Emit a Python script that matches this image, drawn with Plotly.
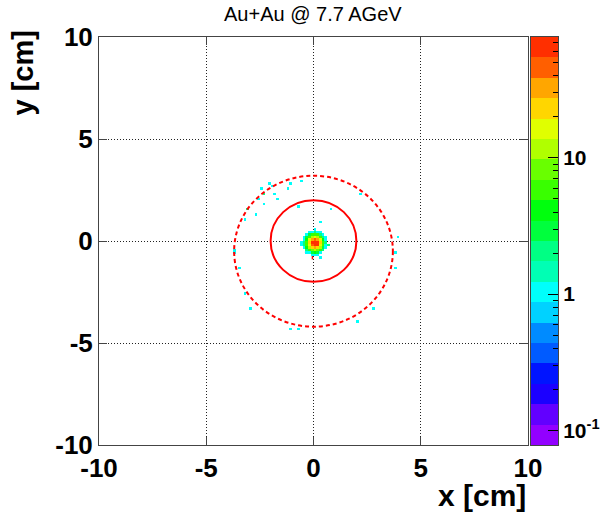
import colorsys
import numpy as np
import plotly.graph_objects as go

# ---- histogram binning (cm) ----
x_lo, x_hi, n_bins = -10.0, 10.0, 160
bin_w = (x_hi - x_lo) / n_bins

# ---- dense vertex core: entries per bin ----
core_x_lo = [-0.625, -0.5, -0.375, -0.25, -0.125, 0.0, 0.125, 0.25, 0.375,
             0.5, 0.625]
core_y_lo = [0.5, 0.375, 0.25, 0.125, 0.0, -0.125, -0.25, -0.375, -0.5,
             -0.625, -0.75]
core_counts = [
    [0, 0, 0, 0, 0, 1, 0, 0, 0, 0, 0],
    [0, 0, 0, 1, 1, 2, 1, 1, 0, 0, 0],
    [0, 0, 1, 3, 5, 6, 5, 2, 1, 0, 0],
    [0, 1, 3, 6, 12, 15, 12, 6, 2, 1, 0],
    [0, 1, 4, 14, 30, 40, 33, 14, 4, 1, 0],
    [1, 2, 6, 20, 55, 77, 62, 22, 6, 2, 0],
    [0, 2, 5, 18, 48, 70, 56, 18, 5, 1, 1],
    [0, 1, 4, 10, 25, 34, 26, 10, 3, 1, 0],
    [0, 0, 2, 5, 9, 12, 9, 5, 2, 0, 0],
    [0, 0, 1, 1, 3, 4, 3, 1, 0, 0, 0],
    [0, 0, 0, 0, 1, 1, 1, 0, 0, 0, 0],
]

# ---- isolated vertices: position (cm) and entries ----
halo_x = [-2.45, -2.05, -1.94, -1.05, -0.54, -1.13, -1.86, -2.35, -2.56, -2.35,
          -1.75, -3.02, -2.63, -3.13, -0.74, 0.85, 0.25, 2.14, -0.54, 0.73,
          0.25, 3.95, 3.85, 3.85, -3.72, -3.64, -3.44, -3.25, -2.94, -1.05,
          -0.65, 2.05, 2.75]
halo_y = [2.56, 2.75, 2.64, 2.87, 2.96, 2.56, 2.34, 2.31, 2.05, 1.85,
          2.05, 1.61, 1.26, 1.03, 1.65, 1.56, 0.95, 2.37, -0.25, -0.25,
          -0.77, 0.13, -0.56, -1.26, -0.44, -0.52, -1.26, -2.57, -3.36, -4.37,
          -4.37, -3.88, -3.28]
halo_n = [1, 1, 1, 1, 1, 1, 1, 2, 1, 1,
          1, 2, 1, 1, 1, 1, 1, 1, 1, 1,
          1, 1, 1, 1, 1, 1, 1, 1, 1, 1,
          1, 1, 1]

# ---- overlay geometry (cm) ----
inner_center, inner_radius = (0.0, 0.0), 2.0
outer_center, outer_radius = (0.0, -0.5), 3.7
beam_center, beam_arm = (-0.05, -0.55), 0.35

# ---- colour axis ----
z_min, z_max = 0.078, 77.0
n_contours = 20
major_vals = [0.1, 1, 10]
major_text = ["10<sup>-1</sup>", "1", "10"]
minor_vals = [0.2, 0.3, 0.4, 0.5, 0.6, 0.7, 0.8, 0.9,
              2, 3, 4, 5, 6, 7, 8, 9, 20, 30, 40, 50, 60, 70]

axis_ticks = [-10, -5, 0, 5, 10]
axis_text = ["-10", "-5", "0", "5", "10"]

# ---- fill the histogram ----
H = np.zeros((n_bins, n_bins))


def bin_index(v):
    return int(np.floor((v - x_lo) / bin_w + 1e-6))


for r, yl in enumerate(core_y_lo):
    for c, xl in enumerate(core_x_lo):
        H[bin_index(yl), bin_index(xl)] += core_counts[r][c]
for xv, yv, nv in zip(halo_x, halo_y, halo_n):
    H[bin_index(yv), bin_index(xv)] += nv

centers = x_lo + bin_w * (np.arange(n_bins) + 0.5)
with np.errstate(divide="ignore"):
    Z = np.where(H > 0, np.log10(H), np.nan)

# ROOT "pretty" palette (HLS hue sweep violet -> red), 20 contour colours
palette = []
for k in range(n_contours):
    j = int(0.01 + k * 50.0 / n_contours)
    hue = 280.0 - (j + 1) * 280.0 / 50.0
    r, g, b = colorsys.hls_to_rgb(hue / 360.0, 0.5, 1.0)
    palette.append(f"rgb({int(r*255)},{int(g*255)},{int(b*255)})")
colorscale = []
for k, col in enumerate(palette):
    colorscale.append([k / n_contours, col])
    colorscale.append([(k + 1) / n_contours, col])

lz_min, lz_max = np.log10(z_min), np.log10(z_max)
dz = (lz_max - lz_min) / n_contours
band_edges = lz_min + dz * np.arange(n_contours + 1)
band_mid = (band_edges[:-1] + band_edges[1:]) / 2

FONT = "Liberation Sans, Arial, Helvetica, sans-serif"
FRAME = "#444444"

# pixel layout: frame 99..528, palette 531..558
left, right_edge = 99, 558
paper_w = right_edge - left
main_dom = [0, (528 - left) / paper_w]
pal_dom = [(531 - left) / paper_w, 1]

fig = go.Figure()
fig.add_trace(go.Heatmap(
    x=centers, y=centers, z=Z, coloraxis="coloraxis",
    hoverongaps=False, zsmooth=False,
))
# palette strip drawn as its own heatmap on a log10 axis
fig.add_trace(go.Heatmap(
    x=[0, 1], y=band_edges, z=[[v] for v in band_mid],
    coloraxis="coloraxis", xaxis="x2", yaxis="y2", hoverinfo="skip",
))

fig.update_layout(coloraxis=dict(
    colorscale=colorscale, cmin=lz_min, cmax=lz_max, showscale=False))

axis_common = dict(
    range=[x_lo, x_hi], tickmode="array", tickvals=axis_ticks,
    ticktext=axis_text, automargin=False,
    ticks="inside", ticklen=8, tickcolor=FRAME, tickwidth=1,
    showline=True, linecolor=FRAME, linewidth=1, mirror="ticks",
    showgrid=True, gridcolor="#222222", gridwidth=1, griddash="1px,2px",
    zeroline=False,
    tickfont=dict(family=FONT, size=26, color="black", weight="bold"),
)
fig.update_layout(
    xaxis=dict(**axis_common, domain=main_dom, anchor="y"),
    yaxis=dict(**axis_common, anchor="x"),
    xaxis2=dict(domain=pal_dom, range=[0, 1], anchor="y2",
                automargin=False,
                showticklabels=False, ticks="", showgrid=False,
                zeroline=False, showline=True, linecolor=FRAME,
                mirror=True),
    yaxis2=dict(range=[lz_min, lz_max], anchor="x2", side="right",
                automargin=False,
                tickmode="array", tickvals=np.log10(major_vals).tolist(),
                ticktext=major_text, ticks="inside", ticklen=10,
                tickcolor="black", tickwidth=1,
                minor=dict(tickmode="array",
                           tickvals=np.log10(minor_vals).tolist(),
                           ticks="inside", ticklen=5, tickcolor="black",
                           showgrid=False),
                showgrid=False, zeroline=False, showline=True,
                linecolor=FRAME, mirror=True,
                tickfont=dict(family=FONT, size=21, color="black",
                              weight="bold")),
)

shapes = [
    dict(type="circle", xref="x", yref="y",
         x0=inner_center[0] - inner_radius, x1=inner_center[0] + inner_radius,
         y0=inner_center[1] - inner_radius, y1=inner_center[1] + inner_radius,
         line=dict(color="red", width=2), layer="above"),
    dict(type="circle", xref="x", yref="y",
         x0=outer_center[0] - outer_radius, x1=outer_center[0] + outer_radius,
         y0=outer_center[1] - outer_radius, y1=outer_center[1] + outer_radius,
         line=dict(color="red", width=2, dash="4px,3px"), layer="above"),
    dict(type="line", xref="x", yref="y",
         x0=beam_center[0] - beam_arm, x1=beam_center[0] + beam_arm,
         y0=beam_center[1], y1=beam_center[1],
         line=dict(color="red", width=1.5), layer="below"),
    dict(type="line", xref="x", yref="y",
         x0=beam_center[0], x1=beam_center[0],
         y0=beam_center[1] - beam_arm, y1=beam_center[1] + beam_arm,
         line=dict(color="red", width=1.5), layer="below"),
]

plot_h = 408
fig.update_layout(
    width=600, height=519,
    margin=dict(l=left, r=600 - right_edge, t=37, b=74),
    paper_bgcolor="white", plot_bgcolor="white",
    shapes=shapes,
    showlegend=False,
    annotations=[
        dict(text="Au+Au @ 7.7 AGeV", xref="paper", yref="paper",
             x=(313 - left) / paper_w, y=1 + 36 / plot_h,
             xanchor="center", yanchor="top", showarrow=False,
             font=dict(family=FONT, size=20, color="black")),
        dict(text="y [cm]", xref="paper", yref="paper",
             x=-77 / paper_w, y=1 + 8 / plot_h, xanchor="center",
             yanchor="top", textangle=-90, showarrow=False,
             font=dict(family=FONT, size=29, color="black", weight="bold")),
        dict(text="x [cm]", xref="paper", yref="paper",
             x=(528 - left) / paper_w, y=-32 / plot_h, xanchor="right",
             yanchor="top", showarrow=False,
             font=dict(family=FONT, size=30, color="black", weight="bold")),
    ],
)

fig.write_html("out.html")
